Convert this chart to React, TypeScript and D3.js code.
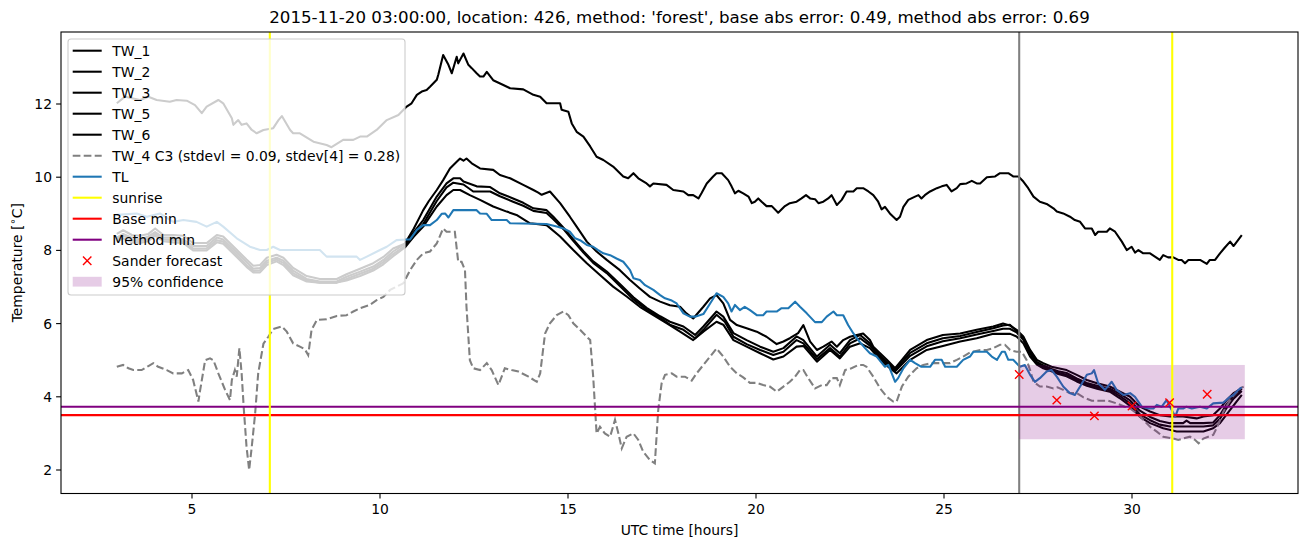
import React, { useEffect } from "react";
import * as d3 from "d3";

type P = [number, number];

// ---------- data (hour, temperature) ----------
const TW_1: P[] = [[3.0,12.02],[3.22,12.2],[3.62,12.11],[3.84,12.2],[4.06,12.11],[4.41,12.06],[4.59,12.11],[4.86,12.09],[5.08,11.97],[5.26,11.75],[5.39,11.93],[5.70,12.11],[5.83,12.02],[6.06,11.61],[6.10,11.43],[6.23,11.56],[6.32,11.43],[6.45,11.47],[6.59,11.29],[6.72,11.2],[6.90,11.29],[7.16,11.34],[7.30,11.56],[7.39,11.67],[7.61,11.29],[7.69,11.2],[7.87,11.2],[8.23,10.97],[8.58,10.88],[8.71,10.82],[9.02,11.02],[9.29,11.02],[9.47,11.11],[9.65,11.11],[9.91,11.29],[10.18,11.56],[10.49,11.70],[10.71,11.93],[10.84,12.02],[10.98,12.25],[11.11,12.34],[11.24,12.38],[11.33,12.47],[11.51,12.66],[11.55,12.8],[11.68,13.34],[11.82,13.07],[11.91,12.84],[12.04,13.29],[12.08,13.11],[12.22,13.38],[12.35,13.07],[12.44,12.98],[12.57,12.84],[12.66,12.75],[12.75,12.75],[12.84,12.88],[13.01,12.65],[13.28,12.52],[13.46,12.43],[13.81,12.40],[14.08,12.25],[14.26,12.2],[14.43,12.02],[14.79,12.02],[14.83,11.84],[15.01,11.79],[15.10,11.47],[15.23,11.24],[15.41,11.11],[15.59,10.84],[15.76,10.56],[15.94,10.47],[16.20,10.29],[16.47,10.02],[16.60,9.97],[16.74,10.11],[16.87,9.97],[17.09,9.83],[17.18,9.75],[17.27,9.83],[17.62,9.79],[17.80,9.65],[18.07,9.61],[18.2,9.51],[18.33,9.51],[18.47,9.42],[18.55,9.56],[18.69,9.83],[18.86,10.02],[18.95,10.11],[19.09,10.11],[19.26,9.92],[19.35,9.75],[19.44,9.56],[19.53,9.63],[19.66,9.56],[19.80,9.47],[19.89,9.29],[19.97,9.33],[20.06,9.42],[20.15,9.33],[20.28,9.21],[20.42,9.21],[20.59,9.03],[20.77,9.21],[20.90,9.29],[21.08,9.33],[21.21,9.42],[21.33,9.51],[21.44,9.42],[21.57,9.40],[21.66,9.29],[21.79,9.33],[21.92,9.42],[22.01,9.51],[22.15,9.24],[22.28,9.38],[22.41,9.61],[22.59,9.61],[22.68,9.70],[22.85,9.70],[22.99,9.61],[23.12,9.51],[23.25,9.33],[23.34,9.12],[23.43,9.19],[23.56,9.01],[23.74,8.83],[23.83,8.92],[23.92,9.19],[24.05,9.38],[24.23,9.47],[24.32,9.51],[24.40,9.42],[24.49,9.51],[24.63,9.61],[24.81,9.70],[24.94,9.75],[25.07,9.79],[25.20,9.61],[25.34,9.70],[25.43,9.81],[25.60,9.83],[25.74,9.90],[25.87,9.83],[25.96,9.83],[26.14,10.0],[26.36,10.02],[26.49,10.11],[26.71,10.11],[26.84,10.02],[26.98,10.02],[27.11,9.88],[27.24,9.70],[27.38,9.47],[27.55,9.33],[27.73,9.27],[27.91,9.15],[28.0,9.06],[28.17,9.01],[28.35,8.92],[28.48,8.83],[28.62,8.78],[28.75,8.60],[28.93,8.60],[29.02,8.42],[29.10,8.51],[29.33,8.51],[29.41,8.60],[29.55,8.51],[29.73,8.24],[29.86,8.01],[29.99,8.10],[30.08,7.94],[30.17,8.01],[30.30,7.92],[30.48,7.92],[30.61,7.83],[30.74,7.74],[30.83,7.87],[30.96,7.81],[31.10,7.81],[31.23,7.74],[31.32,7.74],[31.41,7.65],[31.50,7.74],[31.81,7.74],[31.99,7.63],[32.07,7.74],[32.21,7.74],[32.34,7.92],[32.47,8.08],[32.61,8.24],[32.70,8.12],[32.92,8.42]];

const TW_2: P[] = [[3.0,8.45],[3.17,8.55],[3.40,8.42],[3.62,8.40],[3.84,8.45],[4.02,8.60],[4.24,8.42],[4.50,8.42],[4.77,8.40],[5.03,8.20],[5.39,8.20],[5.66,8.42],[5.83,8.38],[6.19,8.02],[6.45,7.75],[6.63,7.58],[6.81,7.60],[6.99,7.80],[7.25,7.88],[7.43,7.80],[7.69,7.52],[8.05,7.30],[8.40,7.22],[8.85,7.22],[9.11,7.35],[9.47,7.50],[9.82,7.65],[10.09,7.82],[10.35,8.05],[10.66,8.18],[10.9,8.6],[11.15,9.10],[11.3,9.35],[11.51,9.65],[11.68,9.92],[11.86,10.24],[12.04,10.42],[12.13,10.51],[12.22,10.45],[12.30,10.51],[12.44,10.38],[12.66,10.24],[13.01,10.20],[13.19,10.06],[13.46,9.97],[13.81,9.79],[14.08,9.65],[14.21,9.58],[14.30,9.52],[14.52,9.61],[14.79,9.29],[15.05,8.92],[15.23,8.65],[15.50,8.24],[15.76,7.97],[16.03,7.74],[16.38,7.46],[16.65,7.19],[16.91,6.96],[17.18,6.73],[17.45,6.60],[17.71,6.50],[17.98,6.46],[18.15,6.28],[18.33,6.14],[18.60,6.46],[18.78,6.69],[18.95,6.78],[19.13,6.55],[19.31,6.10],[19.49,5.96],[19.75,5.87],[20.02,5.78],[20.28,5.64],[20.55,5.44],[20.73,5.51],[20.90,5.60],[21.12,5.74],[21.26,5.96],[21.44,5.51],[21.62,5.28],[21.79,5.37],[22.01,5.51],[22.15,5.37],[22.32,5.55],[22.50,5.64],[22.68,5.69],[22.85,5.73],[23.03,5.55],[23.12,5.37],[23.30,5.19],[23.48,5.01],[23.70,4.78],[24.10,5.28],[24.54,5.55],[24.97,5.69],[25.43,5.73],[25.87,5.83],[26.31,5.92],[26.57,6.0],[26.75,5.95],[26.93,5.83],[27.11,5.65],[27.29,5.28],[27.47,5.01],[27.64,4.92],[27.86,4.82],[28.04,4.78],[28.26,4.73],[28.53,4.60],[28.80,4.46],[29.07,4.37],[29.41,4.28],[29.68,4.14],[29.95,4.0],[30.21,3.73],[30.48,3.60],[30.74,3.50],[31.01,3.46],[31.36,3.46],[31.72,3.41],[31.90,3.46],[32.16,3.50],[32.34,3.68],[32.52,3.91],[32.70,4.10],[32.92,4.23]];

const TW_3: P[] = [[3.0,8.35],[3.17,8.45],[3.40,8.35],[3.62,8.30],[3.84,8.38],[4.02,8.50],[4.24,8.35],[4.50,8.35],[4.77,8.30],[5.03,8.12],[5.39,8.12],[5.66,8.35],[5.83,8.30],[6.19,7.95],[6.45,7.68],[6.63,7.50],[6.81,7.52],[6.99,7.72],[7.25,7.80],[7.43,7.72],[7.69,7.45],[8.05,7.22],[8.40,7.15],[8.85,7.15],[9.11,7.28],[9.47,7.42],[9.82,7.56],[10.09,7.74],[10.35,7.97],[10.66,8.18],[10.9,8.5],[11.15,8.83],[11.51,9.47],[11.77,9.83],[11.95,9.97],[12.13,9.97],[12.22,9.88],[12.57,9.75],[12.93,9.73],[13.19,9.56],[13.54,9.42],[13.81,9.30],[14.08,9.15],[14.43,9.10],[14.61,8.92],[14.88,8.62],[15.14,8.30],[15.41,7.98],[15.67,7.70],[16.03,7.42],[16.38,7.08],[16.74,6.72],[17.09,6.43],[17.45,6.20],[17.71,6.05],[18.07,5.92],[18.38,5.69],[18.60,5.92],[18.95,6.33],[19.13,6.19],[19.40,5.74],[19.75,5.55],[20.11,5.37],[20.46,5.23],[20.73,5.33],[21.08,5.65],[21.26,5.55],[21.62,5.10],[21.97,5.42],[22.23,5.19],[22.50,5.55],[22.77,5.69],[23.03,5.46],[23.30,5.12],[23.48,4.95],[23.70,4.74],[24.10,5.20],[24.54,5.46],[24.97,5.60],[25.43,5.66],[25.87,5.77],[26.31,5.87],[26.57,5.95],[26.75,5.97],[26.93,5.80],[27.11,5.60],[27.29,5.22],[27.47,4.95],[27.64,4.86],[27.86,4.76],[28.04,4.70],[28.26,4.65],[28.53,4.50],[28.80,4.38],[29.07,4.30],[29.41,4.22],[29.68,4.08],[29.95,3.90],[30.21,3.62],[30.48,3.45],[30.74,3.34],[31.01,3.28],[31.36,3.28],[31.45,3.35],[31.55,3.28],[31.90,3.28],[32.16,3.30],[32.34,3.50],[32.52,3.80],[32.70,4.02],[32.92,4.22]];

const TW_5: P[] = [[3.0,8.30],[3.17,8.40],[3.40,8.28],[3.62,8.25],[3.84,8.32],[4.02,8.45],[4.24,8.30],[4.50,8.28],[4.77,8.25],[5.03,8.05],[5.39,8.06],[5.66,8.28],[5.83,8.24],[6.19,7.88],[6.45,7.60],[6.63,7.44],[6.81,7.46],[6.99,7.66],[7.25,7.75],[7.43,7.66],[7.69,7.38],[8.05,7.18],[8.40,7.12],[8.85,7.12],[9.11,7.22],[9.47,7.36],[9.82,7.50],[10.09,7.68],[10.35,7.90],[10.66,8.12],[10.9,8.42],[11.15,8.72],[11.51,9.35],[11.77,9.72],[11.95,9.85],[12.22,9.80],[12.48,9.61],[12.93,9.61],[13.19,9.48],[13.54,9.33],[13.81,9.22],[14.08,9.08],[14.43,9.02],[14.61,8.85],[14.88,8.58],[15.14,8.26],[15.41,7.94],[15.67,7.66],[16.03,7.38],[16.38,7.03],[16.74,6.66],[17.09,6.38],[17.45,6.16],[17.71,5.97],[18.07,5.83],[18.38,5.60],[18.60,5.83],[18.95,6.24],[19.17,6.05],[19.40,5.64],[19.75,5.44],[20.11,5.28],[20.46,5.14],[20.73,5.23],[21.08,5.55],[21.26,5.46],[21.62,5.03],[21.97,5.33],[22.23,5.10],[22.50,5.46],[22.77,5.60],[23.03,5.40],[23.30,5.08],[23.48,4.90],[23.70,4.70],[24.10,5.12],[24.54,5.38],[24.97,5.52],[25.43,5.60],[25.87,5.70],[26.31,5.80],[26.57,5.86],[26.75,5.86],[26.93,5.76],[27.11,5.56],[27.29,5.18],[27.47,4.92],[27.64,4.82],[27.86,4.73],[28.04,4.66],[28.26,4.60],[28.53,4.46],[28.80,4.34],[29.07,4.26],[29.41,4.18],[29.68,4.02],[29.95,3.82],[30.21,3.52],[30.48,3.36],[30.74,3.24],[31.01,3.19],[31.36,3.19],[31.90,3.19],[32.16,3.22],[32.34,3.40],[32.52,3.70],[32.70,3.95],[32.92,4.16]];

const TW_6: P[] = [[3.0,8.25],[3.17,8.33],[3.40,8.22],[3.62,8.20],[3.84,8.26],[4.02,8.40],[4.24,8.25],[4.50,8.22],[4.77,8.20],[5.03,8.00],[5.39,8.00],[5.66,8.22],[5.83,8.18],[6.19,7.82],[6.45,7.55],[6.63,7.40],[6.81,7.40],[6.99,7.60],[7.25,7.70],[7.43,7.60],[7.69,7.32],[8.05,7.15],[8.40,7.12],[8.85,7.12],[9.11,7.18],[9.47,7.30],[9.82,7.45],[10.09,7.62],[10.35,7.84],[10.66,8.08],[10.9,8.38],[11.15,8.65],[11.51,9.20],[11.77,9.51],[11.95,9.65],[12.13,9.65],[12.39,9.51],[12.66,9.38],[13.01,9.20],[13.37,9.06],[13.63,8.97],[13.99,8.74],[14.43,8.69],[14.79,8.38],[15.14,8.01],[15.50,7.65],[15.85,7.33],[16.20,7.01],[16.56,6.74],[16.91,6.46],[17.27,6.23],[17.62,6.01],[17.98,5.78],[18.33,5.55],[18.60,5.78],[18.95,6.05],[19.13,5.97],[19.40,5.55],[19.75,5.37],[20.11,5.19],[20.46,5.02],[20.73,5.10],[21.08,5.37],[21.26,5.39],[21.62,4.96],[21.97,5.28],[22.23,5.05],[22.50,5.37],[22.77,5.46],[23.03,5.33],[23.30,5.02],[23.48,4.85],[23.74,4.64],[24.10,5.01],[24.54,5.28],[24.97,5.39],[25.43,5.51],[25.87,5.60],[26.31,5.72],[26.76,5.72],[26.93,5.65],[27.11,5.46],[27.29,5.10],[27.47,4.88],[27.64,4.78],[27.86,4.70],[28.04,4.62],[28.26,4.56],[28.53,4.42],[28.80,4.30],[29.07,4.22],[29.41,4.14],[29.68,3.96],[29.95,3.75],[30.21,3.45],[30.48,3.28],[30.83,3.14],[31.19,3.05],[31.54,3.05],[31.90,3.05],[32.16,3.14],[32.34,3.28],[32.61,3.64],[32.92,4.05]];

const TW_4: P[] = [[3.0,4.82],[3.17,4.87],[3.31,4.78],[3.44,4.73],[3.66,4.73],[3.84,4.84],[3.97,4.92],[4.10,4.82],[4.33,4.73],[4.50,4.64],[4.73,4.64],[4.90,4.73],[5.03,4.46],[5.17,3.87],[5.21,4.14],[5.35,5.0],[5.48,5.05],[5.57,5.0],[5.70,4.64],[5.88,4.19],[6.01,3.91],[6.06,4.46],[6.14,4.73],[6.19,4.55],[6.26,5.33],[6.32,4.64],[6.38,3.64],[6.45,2.64],[6.52,2.0],[6.59,2.64],[6.68,3.55],[6.76,4.64],[6.90,5.45],[7.03,5.64],[7.16,5.85],[7.39,5.92],[7.52,5.78],[7.69,5.46],[7.87,5.37],[8.0,5.3],[8.09,5.14],[8.18,5.83],[8.32,6.10],[8.58,6.12],[8.85,6.21],[9.11,6.23],[9.29,6.33],[9.47,6.42],[9.73,6.51],[9.91,6.64],[10.09,6.73],[10.27,6.92],[10.44,7.01],[10.62,7.10],[10.80,7.46],[10.98,7.74],[11.15,7.92],[11.33,7.97],[11.51,8.19],[11.68,8.60],[11.77,8.51],[11.99,8.51],[12.08,7.69],[12.17,7.69],[12.26,7.46],[12.30,6.46],[12.39,5.0],[12.48,4.78],[12.66,4.73],[12.84,4.92],[12.97,4.73],[13.15,4.32],[13.32,4.78],[13.50,4.73],[13.68,4.69],[13.95,4.55],[14.17,4.41],[14.26,4.64],[14.39,5.73],[14.52,6.01],[14.70,6.23],[14.88,6.33],[15.01,6.23],[15.14,6.01],[15.32,5.83],[15.50,5.64],[15.59,5.55],[15.67,4.55],[15.76,3.0],[15.85,3.18],[15.98,3.0],[16.12,2.91],[16.25,3.37],[16.34,3.0],[16.43,2.59],[16.56,2.91],[16.74,3.0],[16.87,2.82],[17.0,2.5],[17.18,2.27],[17.31,2.18],[17.40,3.64],[17.49,4.37],[17.58,4.60],[17.76,4.64],[17.89,4.55],[18.11,4.55],[18.29,4.44],[18.42,4.64],[18.60,4.87],[18.78,5.10],[18.95,5.32],[19.13,5.10],[19.31,4.82],[19.49,4.64],[19.66,4.53],[19.84,4.38],[20.02,4.38],[20.19,4.32],[20.37,4.28],[20.55,4.14],[20.73,4.28],[20.90,4.41],[21.04,4.55],[21.17,4.73],[21.26,4.73],[21.39,4.51],[21.57,4.23],[21.75,4.32],[21.88,4.32],[22.01,4.51],[22.15,4.51],[22.23,4.32],[22.37,4.73],[22.54,4.78],[22.72,4.87],[22.85,4.87],[22.94,4.82],[23.12,4.55],[23.30,4.23],[23.48,4.0],[23.65,3.87],[23.74,3.87],[23.88,4.28],[24.05,4.55],[24.27,4.78],[24.45,4.87],[24.67,4.92],[24.89,4.92],[25.16,4.92],[25.34,5.01],[25.51,5.10],[25.69,5.21],[25.96,5.28],[26.14,5.28],[26.31,5.33],[26.49,5.42],[26.62,5.42],[26.76,5.28],[26.93,5.23],[27.07,5.23],[27.20,5.0],[27.29,4.73],[27.38,4.41],[27.55,4.28],[27.73,4.28],[27.91,4.23],[28.02,4.26],[28.17,4.19],[28.35,4.10],[28.53,4.10],[28.70,3.99],[28.93,3.89],[29.37,3.89],[29.59,3.82],[29.81,3.73],[29.95,3.68],[30.12,3.55],[30.30,3.37],[30.48,3.18],[30.66,3.05],[30.83,2.91],[31.10,2.86],[31.23,2.82],[31.36,2.86],[31.54,2.91],[31.68,2.82],[31.77,2.73],[31.90,2.86],[32.16,2.96],[32.29,3.23],[32.43,3.59],[32.56,3.82],[32.70,4.05],[32.88,4.23],[32.97,4.28]];

const TL: P[] = [[3.0,8.97],[3.53,9.01],[3.80,8.92],[4.15,9.01],[4.50,8.78],[4.77,8.83],[5.12,8.78],[5.39,8.65],[5.66,8.78],[5.83,8.65],[6.19,8.33],[6.54,8.10],[6.81,8.01],[6.99,8.01],[7.16,8.10],[7.34,8.01],[8.40,8.01],[8.58,7.83],[9.38,7.83],[9.47,7.74],[9.65,7.83],[10.0,8.01],[10.18,8.10],[10.44,8.28],[10.71,8.30],[10.80,8.30],[10.98,8.56],[11.15,8.69],[11.33,8.69],[11.51,8.83],[11.64,9.0],[11.73,9.01],[11.82,8.90],[11.95,9.10],[12.57,9.10],[12.66,9.01],[12.84,9.0],[12.97,8.83],[13.37,8.83],[13.46,8.74],[14.43,8.72],[14.70,8.65],[14.88,8.60],[15.05,8.51],[15.19,8.33],[15.32,8.28],[15.50,8.15],[15.67,8.10],[15.80,8.01],[15.94,7.92],[16.12,7.87],[16.29,7.78],[16.47,7.69],[16.65,7.46],[16.74,7.24],[16.91,7.19],[17.05,7.05],[17.27,6.92],[17.45,6.78],[17.58,6.69],[17.76,6.63],[17.89,6.55],[18.07,6.28],[18.24,6.19],[18.38,6.19],[18.60,6.26],[18.78,6.55],[18.95,6.83],[19.13,6.73],[19.26,6.55],[19.35,6.33],[19.44,6.51],[19.57,6.37],[19.70,6.46],[19.84,6.37],[20.02,6.23],[20.19,6.23],[20.28,6.33],[20.55,6.33],[20.68,6.42],[20.86,6.42],[21.04,6.60],[21.17,6.46],[21.35,6.28],[21.57,6.04],[21.75,6.04],[21.88,6.19],[22.06,6.33],[22.15,6.23],[22.32,6.23],[22.45,5.96],[22.59,5.73],[22.72,5.55],[22.90,5.33],[23.03,5.19],[23.21,5.10],[23.43,4.82],[23.52,4.87],[23.61,4.64],[23.70,4.41],[23.78,4.51],[23.92,4.78],[24.10,5.01],[24.23,4.92],[24.40,4.82],[24.63,4.82],[24.76,5.01],[24.94,5.01],[25.03,4.82],[25.34,4.82],[25.51,5.01],[25.69,5.10],[25.78,5.23],[26.14,5.23],[26.27,5.10],[26.41,5.01],[26.54,5.23],[26.62,5.23],[26.71,5.01],[26.84,5.01],[27.02,4.82],[27.15,4.87],[27.29,4.60],[27.42,4.41],[27.55,4.51],[27.73,4.69],[27.86,4.73],[28.0,4.55],[28.17,4.28],[28.35,4.10],[28.48,4.05],[28.62,4.28],[28.80,4.60],[28.93,4.64],[28.99,4.73],[29.10,4.37],[29.28,4.19],[29.46,4.41],[29.59,4.19],[29.77,4.05],[29.95,4.10],[30.08,4.0],[30.26,3.73],[30.44,3.68],[30.57,3.68],[30.66,3.78],[30.79,3.73],[30.92,3.91],[31.01,3.73],[31.15,3.46],[31.23,3.68],[31.36,3.68],[31.45,3.73],[31.59,3.68],[31.81,3.73],[31.99,3.68],[32.16,3.82],[32.43,3.84],[32.61,4.0],[32.70,4.05],[32.83,4.19],[32.92,4.26]];

const SUNRISE_HOURS = [7.07, 31.07];
const FORECAST_START = 27;
const BASE_MIN = 3.5;
const METHOD_MIN = 3.73;
const SANDER_HOURS = [27, 28, 29, 30, 31, 32];
const SANDER_VALUES = [4.61, 3.91, 3.48, 3.75, 3.84, 4.07];
const CONF_HOURS = [27, 33];
const CONF_RANGE = [2.84, 4.87];
const X_TICKS = [5, 10, 15, 20, 25, 30];
const Y_TICKS = [2, 4, 6, 8, 10, 12];

const TITLE = "2015-11-20 03:00:00, location: 426, method: 'forest', base abs error: 0.49, method abs error: 0.69";
const LEGEND_LABELS = ["TW_1", "TW_2", "TW_3", "TW_5", "TW_6", "TW_4 C3 (stdevl = 0.09, stdev[4] = 0.28)", "TL", "sunrise", "Base min", "Method min", "Sander forecast", "95% confidence"];

// ---------- layout ----------
const W = 1310, H = 547;
const L = 61, R = 1298, T = 32, B = 493.5;
const FONT = "DejaVu Sans, sans-serif";

export default function App() {
  useEffect(() => { document.body.style.margin = "0"; }, []);
  const x = d3.scaleLinear().domain([(L - 4) / 37.6, (R - 4) / 37.6]).range([L, R]);
  const y = d3.scaleLinear().domain([2 - (B - 470) / 36.6, 2 + (470 - T) / 36.6]).range([B, T]);
  const line = d3.line<P>().x(d => x(d[0])).y(d => y(d[1]));
  const LW = 2.08;

  const blacks = [TW_1, TW_2, TW_3, TW_5, TW_6];
  const legendStyles: any[] = [
    { kind: "line", color: "#000" }, { kind: "line", color: "#000" }, { kind: "line", color: "#000" },
    { kind: "line", color: "#000" }, { kind: "line", color: "#000" },
    { kind: "line", color: "#808080", dash: "7.7,3.3" }, { kind: "line", color: "#1f77b4" },
    { kind: "line", color: "#ffff00" }, { kind: "line", color: "#ff0000" }, { kind: "line", color: "#800080" },
    { kind: "x", color: "#ff0000" }, { kind: "patch", color: "#800080" },
  ];
  const xm = (cx: number, cy: number, s = 4.2) => `M${cx - s},${cy - s}L${cx + s},${cy + s}M${cx - s},${cy + s}L${cx + s},${cy - s}`;

  return (
    <svg width={W} height={H} style={{ position: "absolute", left: 0, top: 0, display: "block", background: "#fff" }} fontFamily={FONT}>
      <rect x={0} y={0} width={W} height={H} fill="#fff" />
      <defs>
        <clipPath id="plot"><rect x={L} y={T} width={R - L} height={B - T} /></clipPath>
      </defs>
      <g clipPath="url(#plot)">
        {blacks.map((s, i) => (
          <path key={i} d={line(s) || ""} fill="none" stroke="#000" strokeWidth={LW} strokeLinejoin="round" />
        ))}
        <path d={line(TW_4) || ""} fill="none" stroke="#808080" strokeWidth={LW} strokeDasharray="7.7,3.3" />
        <path d={line(TL) || ""} fill="none" stroke="#1f77b4" strokeWidth={LW} strokeLinejoin="round" />
        <line x1={x(FORECAST_START)} x2={x(FORECAST_START)} y1={T} y2={B} stroke="#808080" strokeWidth={LW} />
        <line x1={L} x2={R} y1={y(BASE_MIN)} y2={y(BASE_MIN)} stroke="#ff0000" strokeWidth={LW} />
        <line x1={L} x2={R} y1={y(METHOD_MIN)} y2={y(METHOD_MIN)} stroke="#800080" strokeWidth={LW} />
        <rect x={x(CONF_HOURS[0])} width={x(CONF_HOURS[1]) - x(CONF_HOURS[0])} y={y(CONF_RANGE[1])} height={y(CONF_RANGE[0]) - y(CONF_RANGE[1])} fill="#800080" fillOpacity={0.2} />
        {SUNRISE_HOURS.map((h, i) => (
          <line key={i} x1={x(h)} x2={x(h)} y1={T} y2={B} stroke="#ffff00" strokeWidth={LW} />
        ))}
        {SANDER_HOURS.map((h, i) => (
          <path key={i} d={xm(x(h), y(SANDER_VALUES[i]))} stroke="#ff0000" strokeWidth={1.4} fill="none" />
        ))}
      </g>
      {/* axes frame */}
      <rect x={L} y={T} width={R - L} height={B - T} fill="none" stroke="#000" strokeWidth={1.1} />
      {X_TICKS.map(t => (
        <g key={t}>
          <line x1={x(t)} x2={x(t)} y1={B} y2={B + 4.9} stroke="#000" strokeWidth={1.1} />
          <text x={x(t)} y={B + 20} fontSize={13.9} textAnchor="middle" fill="#000">{t}</text>
        </g>
      ))}
      {Y_TICKS.map(t => (
        <g key={t}>
          <line x1={L - 4.9} x2={L} y1={y(t)} y2={y(t)} stroke="#000" strokeWidth={1.1} />
          <text x={L - 9} y={y(t)} dy="0.36em" fontSize={13.9} textAnchor="end" fill="#000">{t}</text>
        </g>
      ))}
      <text x={(L + R) / 2} y={535} fontSize={13.9} textAnchor="middle" fill="#000">UTC time [hours]</text>
      <text transform={`translate(22,${(T + B) / 2}) rotate(-90)`} fontSize={13.9} textAnchor="middle" fill="#000">
        Temperature [<tspan fontSize={10} dy={-6}>∘</tspan><tspan dy={6}>C]</tspan>
      </text>
      <text x={(L + R) / 2} y={23} fontSize={16.67} textAnchor="middle" fill="#000">{TITLE}</text>
      {/* legend */}
      <g>
        <rect x={68} y={39} width={337} height={256} rx={3} fill="#fff" fillOpacity={0.8} stroke="#cccccc" strokeWidth={1.1} />
        {LEGEND_LABELS.map((lab, i) => {
          const cy = 50.7 + 21 * i;
          const st = legendStyles[i];
          return (
            <g key={i}>
              {st.kind === "line" && (
                <line x1={72.7} x2={101.7} y1={cy} y2={cy} stroke={st.color} strokeWidth={LW} strokeDasharray={st.dash} />
              )}
              {st.kind === "x" && <path d={xm(87.2, cy)} stroke={st.color} strokeWidth={1.4} fill="none" />}
              {st.kind === "patch" && <rect x={72.7} y={cy - 4.9} width={29} height={9.8} fill={st.color} fillOpacity={0.2} />}
              <text x={112.3} y={cy} dy="0.36em" fontSize={13.9} fill="#000">{lab}</text>
            </g>
          );
        })}
      </g>
    </svg>
  );
}
